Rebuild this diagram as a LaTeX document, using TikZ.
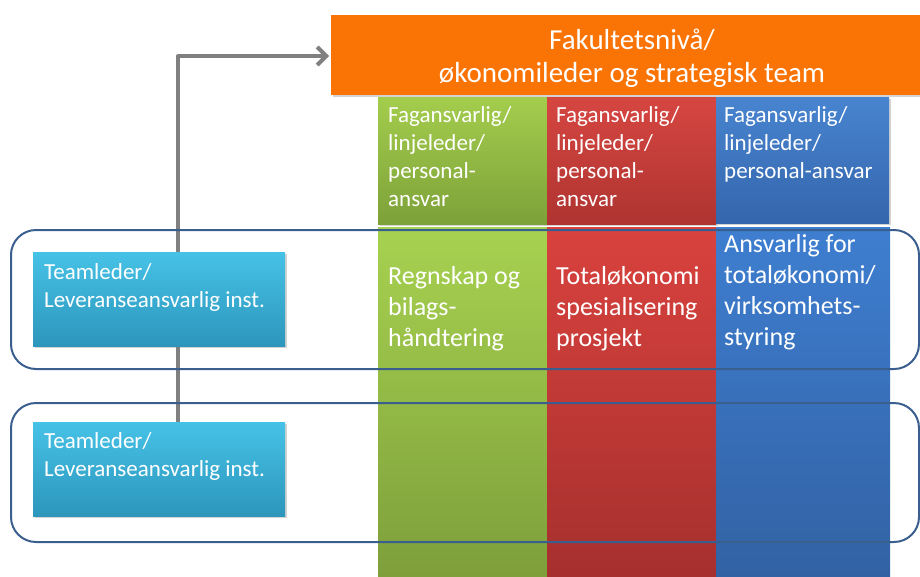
\documentclass[tikz,border=0pt]{standalone}
\usepackage{fontspec}
\setmainfont{Carlito}
\usetikzlibrary{arrows.meta,shadows}
\definecolor{orangeF}{RGB}{250,115,5}
\definecolor{grnHT}{RGB}{164,205,77}
\definecolor{grnHB}{RGB}{125,161,57}
\definecolor{grnT}{RGB}{167,210,80}
\definecolor{grnB}{RGB}{126,159,59}
\definecolor{redHT}{RGB}{214,70,65}
\definecolor{redHB}{RGB}{175,52,49}
\definecolor{redT}{RGB}{217,66,62}
\definecolor{redB}{RGB}{166,48,46}
\definecolor{bluHT}{RGB}{72,132,208}
\definecolor{bluHB}{RGB}{52,102,172}
\definecolor{bluT}{RGB}{62,126,208}
\definecolor{bluB}{RGB}{50,98,164}
\definecolor{cyanT}{RGB}{70,194,230}
\definecolor{cyanB}{RGB}{45,150,188}
\definecolor{bandC}{RGB}{58,95,142}
\definecolor{connC}{RGB}{128,128,128}
\begin{document}
\begin{tikzpicture}[x=1pt,y=-1pt,
  cell/.style={anchor=north west, inner sep=0pt, outer sep=0pt, draw=none},
  shad/.style={drop shadow={opacity=0.35, shadow xshift=1.5pt, shadow yshift=-1.5pt}},
  hdrtxt/.style={anchor=north west, inner sep=0pt, align=left, text=white,
    font=\fontsize{23}{28}\selectfont},
  bodytxt/.style={anchor=north west, inner sep=0pt, align=left, text=white,
    font=\fontsize{26}{31}\selectfont},
  tltxt/.style={anchor=north west, inner sep=0pt, align=left, text=white,
    font=\fontsize{23}{28}\selectfont},
  teambox/.style={cell, top color=cyanT, bottom color=cyanB, shad,
    minimum width=252pt, minimum height=94pt},
  band/.style={draw=bandC, line width=2pt, rounded corners=25pt, fill=none},
  conn/.style={draw=connC, line width=4pt, line cap=round, line join=round,
    -{Straight Barb[length=9pt,width=18pt,line width=4pt]}}
]
\useasboundingbox (0,0) rectangle (920,576);

% body columns
\node[cell, top color=grnT, bottom color=grnB, minimum width=169pt, minimum height=349pt] (gbody) at (378,227) {};
\node[cell, top color=redT, bottom color=redB, minimum width=169pt, minimum height=349pt] (rbody) at (547,227) {};
\node[cell, top color=bluT, bottom color=bluB, minimum width=174pt, minimum height=349pt] (bbody) at (716,227) {};

% header cells
\node[cell, shad, top color=grnHT, bottom color=grnHB, minimum width=169pt, minimum height=127pt] (ghead) at (378,97) {};
\node[cell, shad, top color=redHT, bottom color=redHB, minimum width=169pt, minimum height=127pt] (rhead) at (547,97) {};
\node[cell, shad, top color=bluHT, bottom color=bluHB, minimum width=173pt, minimum height=126pt] (bhead) at (716,97) {};

% faculty box
\node[cell, shad, fill=orangeF, minimum width=589pt, minimum height=80pt] (fac) at (331,15) {};
\node[anchor=north, inner sep=0pt, align=center, text=white,
  font=\fontsize{29}{33}\selectfont] (factxt) at (632,25.9)
  {\strut Fakultetsnivå/\\økonomileder og strategisk team};

% connector
\coordinate (bend) at (178,56);
\coordinate (tltop) at (178,422);
\draw[conn, shorten >=2pt] (tltop) -- (bend) -- (bend -| fac.west);

% team leader boxes
\node[teambox] (tl1) at (33,252) {};
\node[teambox] (tl2) at (33,422) {};
\node[tltxt] (tl1txt) at (44,259.4) {\strut Teamleder/\\Leveranseansvarlig inst.};
\node[tltxt] (tl2txt) at (44,428.4) {\strut Teamleder/\\Leveranseansvarlig inst.};

% bands
\draw[band] (11,230) rectangle (919,369);
\draw[band] (11,403) rectangle (919,542);

% header texts
\node[hdrtxt] (ghtxt) at (388,102.4) {\strut Fagansvarlig/\\linjeleder/\\personal-\\ansvar};
\node[hdrtxt] (rhtxt) at (556,102.4) {\strut Fagansvarlig/\\linjeleder/\\personal-\\ansvar};
\node[hdrtxt] (bhtxt) at (724,102.4) {\strut Fagansvarlig/\\linjeleder/\\personal-ansvar};

% body texts
\node[bodytxt] (gbtxt) at (388,262.3) {\strut Regnskap og\\bilags-\\håndtering};
\node[bodytxt] (rbtxt) at (556,262.3) {\strut Totaløkonomi\\spesialisering\\prosjekt};
\node[bodytxt] (bbtxt) at (724,230.3) {\strut Ansvarlig for\\totaløkonomi/\\virksomhets-\\styring};
\end{tikzpicture}
\end{document}
